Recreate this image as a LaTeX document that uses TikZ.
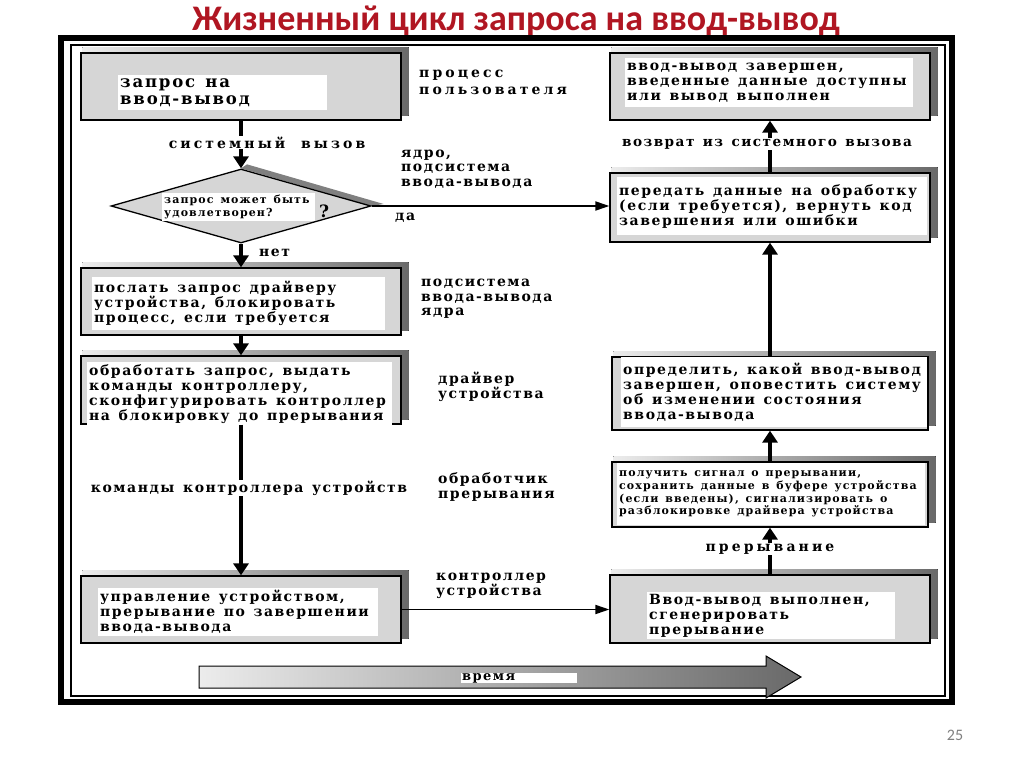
\documentclass[tikz,border=0pt]{standalone}
\usepackage{fontspec}
\setmainfont{DejaVu Serif}
\newfontfamily\boxfnt[LetterSpace=11, WordSpace=1.35]{DejaVu Serif}
\newfontfamily\widefnt[LetterSpace=22, WordSpace=2]{DejaVu Serif}
\newfontfamily\smallfnt[LetterSpace=10, WordSpace=1.4]{DejaVu Serif}
\newfontfamily\titlefnt{Carlito-Bold.ttf}
\newfontfamily\pagefnt{Carlito}
\usetikzlibrary{arrows.meta,shapes.geometric,backgrounds}

\definecolor{titlered}{RGB}{176,22,34}
\definecolor{boxgray}{RGB}{214,214,214}
\definecolor{shadelt}{RGB}{236,236,236}
\definecolor{shadedk}{RGB}{105,105,105}

\tikzset{
  box/.style={draw, line width=1.3pt, fill=boxgray, minimum width=320pt, minimum height=67pt, inner sep=0pt},
  txt/.style={fill=white, anchor=north west, align=flush left, inner sep=2pt, font={\boxfnt\bfseries\fontsize{14pt}{15pt}\selectfont}},
  smalltxt/.style={txt, font={\smallfnt\bfseries\fontsize{11pt}{12.7pt}\selectfont}},
  lbl/.style={anchor=west, align=left, inner sep=1pt, font={\boxfnt\bfseries\fontsize{14pt}{14.5pt}\selectfont}},
  widelbl/.style={lbl, font={\widefnt\bfseries\fontsize{14pt}{17pt}\selectfont}},
  onpath/.style={fill=white, inner xsep=2pt, inner ysep=4pt},
  flow/.style={line width=3.5pt, -{Triangle[width=15pt,length=12pt]}},
  link/.style={line width=1.8pt, -{Triangle[width=9pt,length=14pt]}}
}

\begin{document}
\begin{tikzpicture}[x=1pt,y=-1pt]
  \useasboundingbox (0,0) rectangle (1024,767);

  % title and frame
  \node[font={\titlefnt\fontsize{36pt}{40pt}\selectfont}, text=titlered] (title) at (516,21) {Жизненный цикл запроса на ввод-вывод};
  \draw[line width=6pt] (61,38) rectangle (952,702);
  \draw[line width=1.5pt] (71,45) rectangle (945,696);
  \node[font={\pagefnt\fontsize{16pt}{18pt}\selectfont}, text=gray] (page) at (955,735) {25};

  % left column
  \node[box] (b1) at (241,86.5) {};
  \node[txt, text width=205pt, minimum height=35pt, font={\boxfnt\bfseries\fontsize{16.5pt}{17pt}\selectfont}] (t1) at (118,75) {запрос на\\ввод-вывод};
  \node[diamond, draw, line width=1.3pt, fill=boxgray, minimum width=260pt, minimum height=74pt, inner sep=0pt] (dia) at (241,206) {};
  \node[smalltxt, text width=149pt, minimum height=27pt, font={\smallfnt\bfseries\fontsize{11pt}{12.5pt}\selectfont}] (tq) at (162,193) {запрос может быть\\удовлетворен?};
  \node[font={\bfseries\fontsize{17pt}{17pt}\selectfont}] (qm) at (324,211) {?};
  \node[box] (b3) at (241,301.5) {};
  \node[txt, text width=289pt, minimum height=53pt] (t3) at (92,277) {послать запрос драйверу\\устройства, блокировать\\процесс, если требуется};
  \node[box, minimum height=68pt] (b4) at (241,390) {};
  \node[txt, text width=301pt, minimum height=58pt] (t4) at (87,362) {обработать запрос, выдать\\команды контроллеру,\\сконфигурировать контроллер\\на блокировку до прерывания};
  \node[box] (b5) at (241,609.5) {};
  \node[txt, text width=276pt, minimum height=45pt] (t5) at (98,588) {управление устройством,\\прерывание по завершении\\ввода-вывода};

  % right column
  \node[box] (r1) at (770,86.5) {};
  \node[txt, text width=284pt, minimum height=49pt] (rt1) at (625,58) {ввод-вывод завершен,\\введенные данные доступны\\или вывод выполнен};
  \node[box, minimum height=69pt] (r2) at (770,207.5) {};
  \node[txt, text width=306pt, minimum height=58pt] (rt2) at (617,177) {передать данные на обработку\\(если требуется), вернуть код\\завершения или ошибки};
  \node[box, minimum width=316pt, minimum height=73pt] (r3) at (770,393.5) {};
  \node[txt, text width=302pt, minimum height=70pt] (rt3) at (621,357) {определить, какой ввод-вывод\\завершен, оповестить систему\\об изменении состояния\\ввода-вывода};
  \node[box, minimum width=316pt, minimum height=65pt] (r4) at (770,494.5) {};
  \node[smalltxt, text width=304pt, minimum height=62pt] (rt4) at (617,463) {получить сигнал о прерывании,\\сохранить данные в буфере устройства\\(если введены), сигнализировать о\\разблокировке драйвера устройства};
  \node[box, minimum height=68pt] (r6) at (770,609) {};
  \node[txt, text width=244pt, minimum height=41pt] (rt6) at (647,592) {Ввод-вывод выполнен,\\сгенерировать\\прерывание};

  % layer names
  \node[widelbl] (l1) at (418,82) {процесс\\пользователя};
  \node[lbl] (l2) at (400,169) {ядро,\\подсистема\\ввода-вывода};
  \node[lbl] (l3) at (394,218) {да};
  \node[lbl] (l4) at (420,299) {подсистема\\ввода-вывода\\ядра};
  \node[lbl] (l5) at (437,387) {драйвер\\устройства};
  \node[lbl] (l6) at (437,487) {обработчик\\прерывания};
  \node[lbl] (l7) at (435,586) {контроллер\\устройства};
  \node[lbl] (l8) at (258,253) {нет};

  % connectors
  \draw[flow] (b1) -- node[onpath, widelbl, anchor=center, pos=0.46, xshift=26pt] {системный вызов} (dia);
  \draw[flow] (dia) -- (b3);
  \draw[flow] (b3) -- (b4);
  \draw[flow] (b4) -- node[onpath, lbl, anchor=center, pos=0.42, xshift=8pt] {команды контроллера устройств} (b5);
  \draw[link] (dia.east) -- (dia.east -| r2.west);
  \draw[link] (b5.east) -- (b5.east -| r6.west);
  \draw[flow] (r6) -- node[onpath, widelbl, anchor=center, pos=0.54] {прерывание} (r4);
  \draw[flow] (r4) -- (r3);
  \draw[flow] (r3) -- (r2);
  \draw[flow] (r2) -- node[onpath, lbl, anchor=center, pos=0.55, xshift=-3pt, font={\boxfnt\bfseries\fontsize{13.6pt}{14pt}\selectfont}] {возврат из системного вызова} (r1);

  % time arrow
  \draw[left color=shadelt, right color=shadedk, line width=1pt] (199,666) -- (766,666) -- (766,656) -- (801,677) -- (766,698) -- (766,688) -- (199,688) -- cycle;
  \node[lbl, fill=white, text width=114pt, inner ysep=0pt, font={\boxfnt\bfseries\fontsize{13pt}{13pt}\selectfont}] (time) at (461,678) {время};

  % box shadows
  \begin{scope}[on background layer]
    \foreach \b in {b1,b3,b4,b5,r1,r2,r3,r4,r6}
      \fill[left color=shadelt, right color=shadedk] ([shift={(2pt,5pt)}]\b.north west) rectangle ([shift={(7pt,5pt)}]\b.south east);
    \fill[gray] (dia.north) -- ([shift={(6pt,4pt)}]dia.north) -- ([shift={(12pt,2pt)}]dia.east) -- (dia.east) -- cycle;
  \end{scope}
\end{tikzpicture}
\end{document}
